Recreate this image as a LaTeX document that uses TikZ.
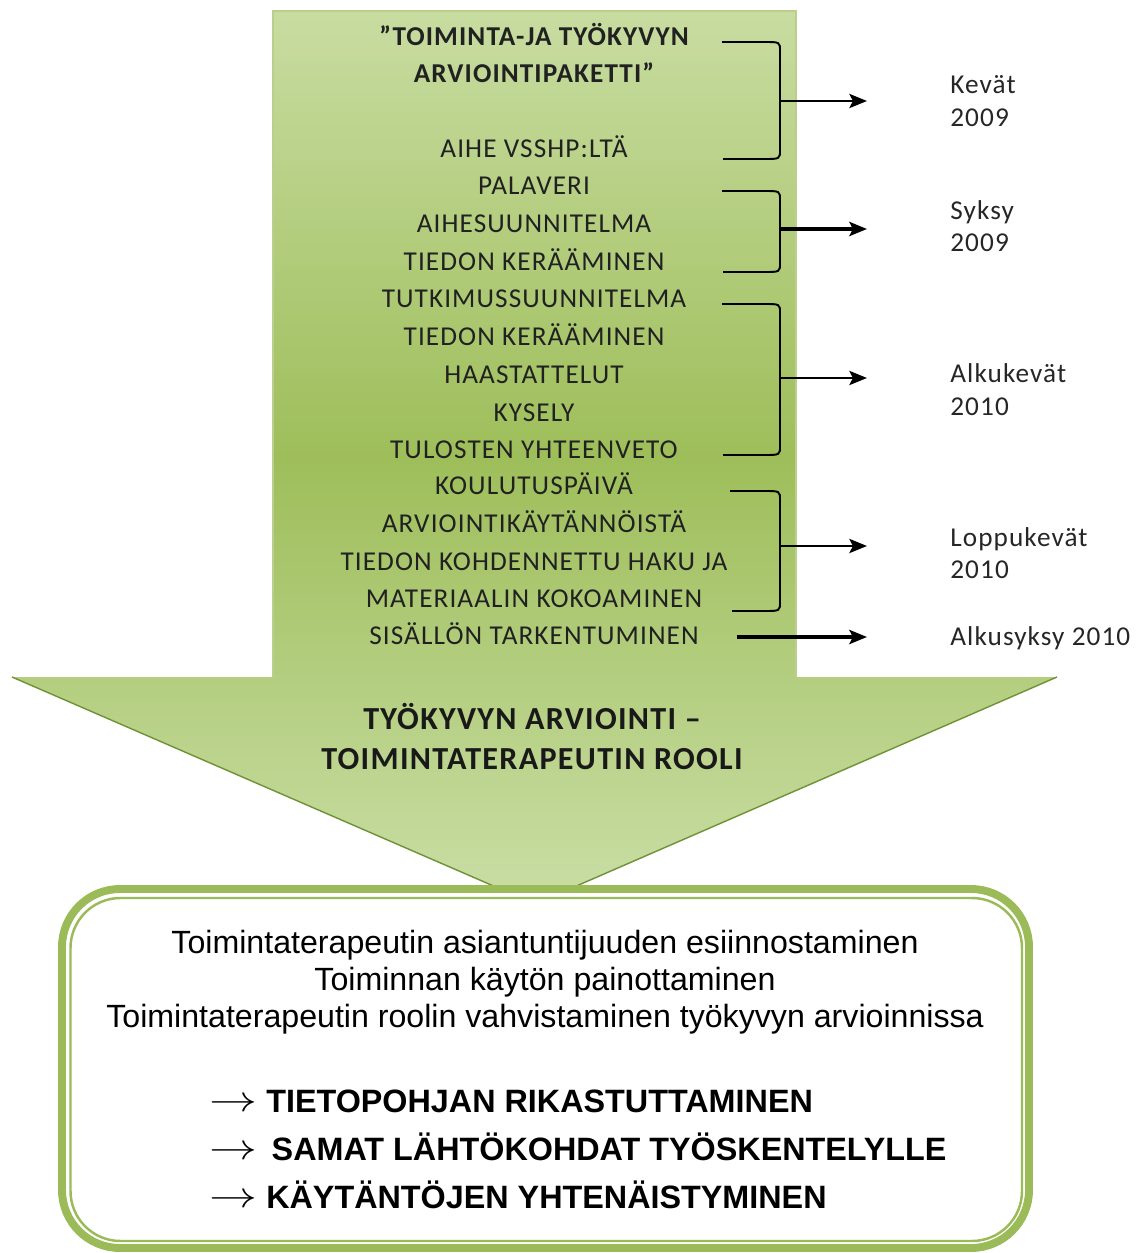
\documentclass[tikz,border=0pt]{standalone}
\usepackage{fontspec}
\setmainfont{Carlito}
\newfontfamily\calfont[LetterSpace=4]{Carlito}
\newfontfamily\arialfont{Liberation Sans}
\usetikzlibrary{arrows.meta}
\definecolor{leafgreen}{HTML}{9BBB59}
\definecolor{leaflight}{HTML}{C8DCA1}
\definecolor{leafmid}{HTML}{9EBE5A}
\definecolor{leaftip}{HTML}{CADEA6}
\definecolor{leafedge}{HTML}{6E9234}
\def\timebrace(#1,#2)(#3,#4){\draw[bracket] (#1,#2) -- (764,#2) .. controls (780,#2) .. (780,#2+9) -- (780,#4-9) .. controls (780,#4) .. (764,#4) -- (#3,#4);}
\def\goalarrow{\raisebox{0.5pt}{\scalebox{1.58}[1.2]{$\rightarrow$}}}

\begin{document}
\begin{tikzpicture}[x=0.02cm, y=-0.02cm,
	stem/.style={anchor=base, inner sep=0pt, text=black!87, font=\calfont\fontsize{15.5}{19}\selectfont},
	stembold/.style={stem, font=\calfont\bfseries\fontsize{15.5}{19}\selectfont},
	season/.style={anchor=base west, inner sep=0pt, text=black!85, font=\calfont\fontsize{15.5}{19}\selectfont},
	headtext/.style={anchor=base, inner sep=0pt, text=black!90, font=\calfont\bfseries\fontsize{18.3}{22}\selectfont},
	goal/.style={anchor=base, inner sep=0pt, font=\arialfont\fontsize{18.3}{21}\selectfont},
	goalbold/.style={anchor=base west, inner sep=0pt, font=\arialfont\bfseries\fontsize{18.4}{21}\selectfont},
	bracket/.style={line width=1.1pt},
	timearrow/.style={line width=1.7pt, -{Stealth[length=10pt,width=8pt,inset=2pt]}},
	timearrowbold/.style={timearrow, line width=2.8pt}]
	%%%%% START %%%%%
	
	\useasboundingbox (0,0) rectangle (1144,1253);
	
	% big arrow
	\shade[top color=leaflight, bottom color=leaftip, middle color=leafmid] (273,11) -- (796,11) -- (796,677) -- (1057,677) -- (535,904) -- (12,677) -- (273,677) -- cycle;
	\draw[leafgreen!70!white, line width=0.6pt] (273,677) -- (273,11) -- (796,11) -- (796,677);
	\draw[leafedge, line width=0.8pt] (12,677) -- (535,904) -- (1057,677);
	
	\node[stembold] (t1) at (534,46) {”TOIMINTA-JA TYÖKYVYN};
	\node[stembold] (t2) at (534,83) {ARVIOINTIPAKETTI”};
	\node[stem] (t3) at (534,158) {AIHE VSSHP:LTÄ};
	\node[stem] (t4) at (534,195) {PALAVERI};
	\node[stem] (t5) at (534,233) {AIHESUUNNITELMA};
	\node[stem] (t6) at (534,271) {TIEDON KERÄÄMINEN};
	\node[stem] (t7) at (534,308) {TUTKIMUSSUUNNITELMA};
	\node[stem] (t8) at (534,345) {TIEDON KERÄÄMINEN};
	\node[stem] (t9) at (534,383) {HAASTATTELUT};
	\node[stem] (t10) at (534,421) {KYSELY};
	\node[stem] (t11) at (534,458) {TULOSTEN YHTEENVETO};
	\node[stem] (t12) at (534,494) {KOULUTUSPÄIVÄ};
	\node[stem] (t13) at (534,532) {ARVIOINTIKÄYTÄNNÖISTÄ};
	\node[stem] (t14) at (534,570) {TIEDON KOHDENNETTU HAKU JA};
	\node[stem] (t15) at (534,607) {MATERIAALIN KOKOAMINEN};
	\node[stem] (t16) at (534,644) {SISÄLLÖN TARKENTUMINEN};
	
	% brackets
	\timebrace(722,42)(723,159)
	\timebrace(722,191)(723,272)
	\timebrace(722,304)(723,455)
	\timebrace(730,491)(732,611)
	
	\coordinate (kb) at (780,101);
	\coordinate (ke) at (867,101);
	\coordinate (sb) at (780,229);
	\coordinate (se) at (867,229);
	\coordinate (ab) at (780,378);
	\coordinate (ae) at (867,378);
	\coordinate (lb) at (780,546);
	\coordinate (le) at (867,546);
	\coordinate (yb) at (737,637);
	\coordinate (ye) at (867,637);
	
	\draw[timearrow] (kb) -- (ke);
	\draw[timearrowbold] (sb) -- (se);
	\draw[timearrow] (ab) -- (ae);
	\draw[timearrow] (lb) -- (le);
	\draw[timearrowbold] (yb) -- (ye);
	
	\node[season] (kevat) at (950,94) {Kevät};
	\node[season] (kevat09) at (950,127) {2009};
	\node[season] (syksy) at (950,220) {Syksy};
	\node[season] (syksy09) at (950,252) {2009};
	\node[season] (alkukevat) at (950,382) {Alkukevät};
	\node[season] (alkukevat10) at (950,415) {2010};
	\node[season] (loppukevat) at (950,546) {Loppukevät};
	\node[season] (loppukevat10) at (950,578) {2010};
	\node[season] (alkusyksy) at (950,645) {Alkusyksy 2010};
	
	\node[headtext] (h1) at (532,729) {TYÖKYVYN ARVIOINTI –};
	\node[headtext] (h2) at (532,769) {TOIMINTATERAPEUTIN ROOLI};
	
	% result box
	\draw[leafgreen, line width=4.5pt, fill=white, rounded corners=1.16cm] (62,889) rectangle (1029,1248);
	\draw[leafgreen, line width=1.4pt, rounded corners=1cm] (70.5,898) rectangle (1022,1241);
	
	\node[goal] (g1) at (545,953) {Toimintaterapeutin asiantuntijuuden esiinnostaminen};
	\node[goal] (g2) at (545,990) {Toiminnan käytön painottaminen};
	\node[goal] (g3) at (545,1027) {Toimintaterapeutin roolin vahvistaminen työkyvyn arvioinnissa};
	
	\node[goalbold] (b1) at (209,1112) {\goalarrow{} TIETOPOHJAN RIKASTUTTAMINEN};
	\node[goalbold] (b2) at (209,1160) {\goalarrow{}\, SAMAT LÄHTÖKOHDAT TYÖSKENTELYLLE};
	\node[goalbold] (b3) at (209,1208) {\goalarrow{} KÄYTÄNTÖJEN YHTENÄISTYMINEN};
	
	%%%%% END %%%%%
\end{tikzpicture}
\end{document}
